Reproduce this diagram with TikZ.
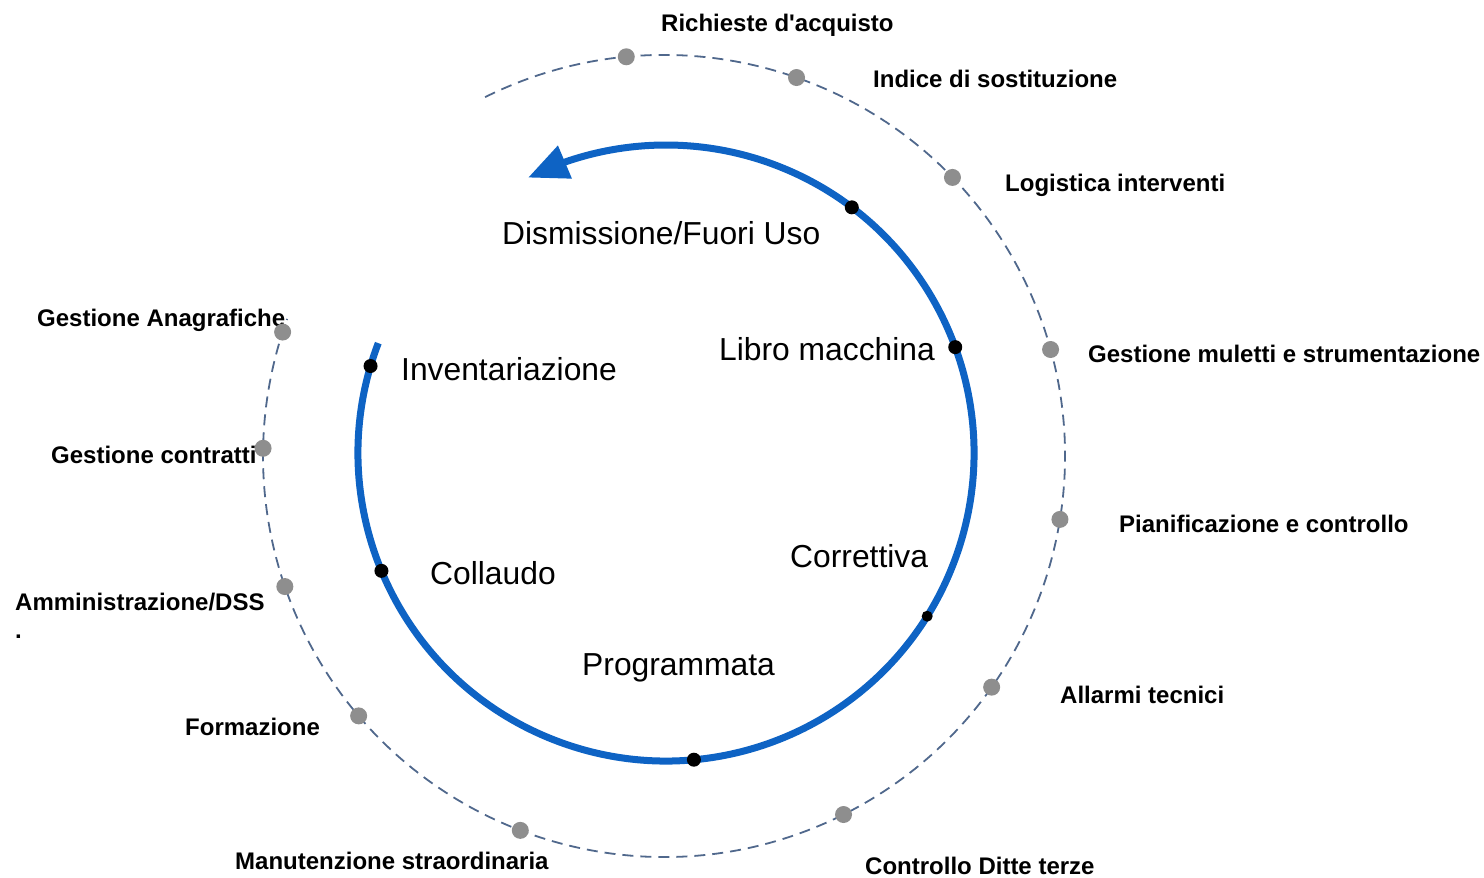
\documentclass[tikz,border=0pt]{standalone}
\usepackage{fontspec}
\setmainfont{Liberation Sans}[Ligatures=TeXOff]
\usetikzlibrary{arrows.meta,bending,calc}
\definecolor{cycblue}{RGB}{14,99,196}
\definecolor{dashcol}{RGB}{80,104,140}
\definecolor{dotgray}{RGB}{142,142,142}
\begin{document}
\begin{tikzpicture}[x=1pt,y=1pt,
  outerlab/.style={anchor=base west,inner sep=0pt,font=\bfseries\fontsize{24}{28}\selectfont},
  innerlab/.style={anchor=base west,inner sep=0pt,font=\fontsize{31.8}{36}\selectfont},
  graydot/.style={circle,fill=dotgray,inner sep=0pt,minimum size=17pt},
  blackdot/.style={circle,fill=black,inner sep=0pt,minimum size=14pt},
  smalldot/.style={circle,fill=black,inner sep=0pt,minimum size=11pt},
  outerring/.style={draw=dashcol,line width=1.8pt,dash pattern=on 11pt off 7pt},
  cyclearc/.style={draw=cycblue,line width=7pt},
]
\useasboundingbox (0,0) rectangle (1484,878);
\coordinate (oc) at (664,422);
\coordinate (ic) at (666,425);

% outer dashed ring
\draw[outerring] ($(oc)+(116.5:401)$) arc[start angle=116.5, end angle=-200, radius=401];

% inner cycle arc with arrow
\draw[cyclearc,-{Triangle[length=40pt,width=34pt,flex]}] ($(ic)+(159.1:308)$) arc[start angle=159.1, end angle=476.6, radius=308];

% outer labels
\node[outerlab] (l1) at (661,846.5) {Richieste d'acquisto};
\node[outerlab] (l2) at (873,790.5) {Indice di sostituzione};
\node[outerlab] (l3) at (1005,686.5) {Logistica interventi};
\node[outerlab] (l4) at (1088,515.5) {Gestione muletti e strumentazione};
\node[outerlab] (l5) at (1119,345.5) {Pianificazione e controllo};
\node[outerlab] (l6) at (1060,174.5) {Allarmi tecnici};
\node[outerlab] (l7) at (865,3.5) {Controllo Ditte terze};
\node[outerlab] (l8) at (235,8.5) {Manutenzione straordinaria};
\node[outerlab] (l9) at (185,142.5) {Formazione};
\node[outerlab] (l10) at (15,267.5) {Amministrazione/DSS};
\node[outerlab] (l10b) at (15,239) {.};
\node[outerlab] (l11) at (51,414.5) {Gestione contratti};
\node[outerlab] (l12) at (37,551.5) {Gestione Anagrafiche};

% inner labels
\node[innerlab] (i1) at (502,633.5) {Dismissione/Fuori Uso};
\node[innerlab] (i2) at (719,517.5) {Libro macchina};
\node[innerlab] (i3) at (401,497.5) {Inventariazione};
\node[innerlab] (i4) at (430,293.5) {Collaudo};
\node[innerlab] (i5) at (790,310.5) {Correttiva};
\node[innerlab] (i6) at (582,202.5) {Programmata};

% gray dots on outer ring
\foreach \a [count=\k] in {95.4,70.7,44.0,15.4,-9.1,-35.2,-63.4,-111.0,-139.6,-161.0,178.9,162.0}
  \node[graydot] (g\k) at ($(oc)+(\a:401)$) {};

% black dots on inner cycle
\node[blackdot] (b1) at ($(ic)+(52.9:308)$) {};
\node[blackdot] (b2) at ($(ic)+(20.1:308)$) {};
\node[smalldot] (b3) at ($(ic)+(-32.0:308)$) {};
\node[blackdot] (b4) at ($(ic)+(-84.8:308)$) {};
\node[blackdot] (b5) at ($(ic)+(202.5:308)$) {};
\node[blackdot] (b6) at ($(ic)+(163.6:308)$) {};
\end{tikzpicture}
\end{document}
